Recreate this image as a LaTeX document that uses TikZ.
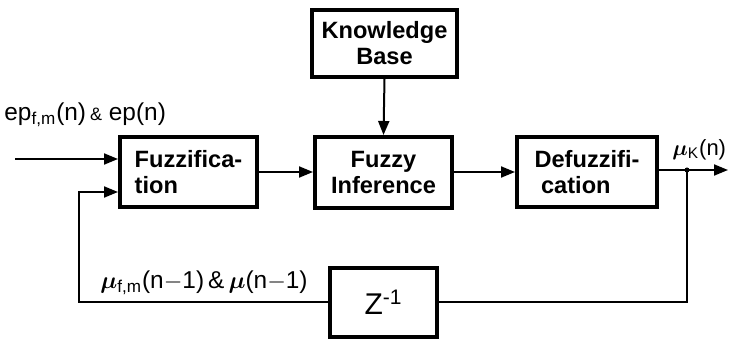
\documentclass[tikz,border=0pt]{standalone}
\usepackage{amsmath,amssymb}
\usepackage{fontspec}
\setmainfont{Liberation Sans}
\usetikzlibrary{arrows.meta}

\tikzset{
  block/.style={draw, line width=2pt, inner sep=0pt, font=\fontsize{11.8}{13}\selectfont\bfseries},
  wire/.style={line width=1pt},
  arr/.style={wire, -{Triangle[length=7pt,width=5.5pt]}},
  lbl/.style={anchor=west, inner sep=0pt, font=\fontsize{12.2}{14}\selectfont},
}

\begin{document}
\begin{tikzpicture}[x=0.5pt,y=0.5pt,yscale=-1,xscale=1]
\useasboundingbox (0,0) rectangle (730,352);

% Blocks
\node [block, minimum width=68.5pt, minimum height=35pt, align=left] (fuzz) at (188.5,172.5) {Fuzzifica-\\tion};
\node [block, minimum width=72.5pt, minimum height=33.5pt, align=center] (kb) at (384.5,43.5) {Knowledge\\Base};
\node [block, minimum width=68.5pt, minimum height=35.5pt, align=center] (inf) at (383.5,172.5) {Fuzzy\\Inference};
\node [block, minimum width=70pt, minimum height=35pt, align=left] (defuzz) at (587,172) {Defuzzifi-\\\ cation};
\node [block, minimum width=53.5pt, minimum height=34.5pt, font=\fontsize{15}{17}\selectfont] (delay) at (383.5,302.5) {Z\textsuperscript{-1}};

% Free ends
\coordinate (in) at (15,159);
\coordinate (out) at (728,170);
\coordinate (tap) at (687,170);
\coordinate (fb) at (79,192);

% Connectors
\draw [arr] (in) -- (in -| fuzz.west);
\draw [arr] (fuzz.east |- 0,172) -- (inf.west |- 0,172);
\draw [arr] (kb.south) -- (inf.north);
\draw [arr] (inf.east |- 0,172) -- (defuzz.west |- 0,172);
\draw [arr] (defuzz.east |- out) -- (out);
\fill (tap) circle (2.5);
\draw [wire] (tap) |- (delay.east);
\draw [arr] (delay.west) -| (fb) -- (fb -| fuzz.west);

% Text Node
\node [lbl] (inlbl) at (4,115) {ep\textsubscript{f,m}(n)\,{\small\&} ep(n)};
% Text Node
\node [lbl] (fblbl) at (100,283) {$\boldsymbol{\mu}$\textsubscript{f,m}(n$-$1)\,\&\,$\boldsymbol{\mu}$(n$-$1)};
% Text Node
\node [lbl, font=\fontsize{11}{13}\selectfont] (outlbl) at (672,150) {$\boldsymbol{\mu}$\textsubscript{K}(n)};

\end{tikzpicture}
\end{document}
